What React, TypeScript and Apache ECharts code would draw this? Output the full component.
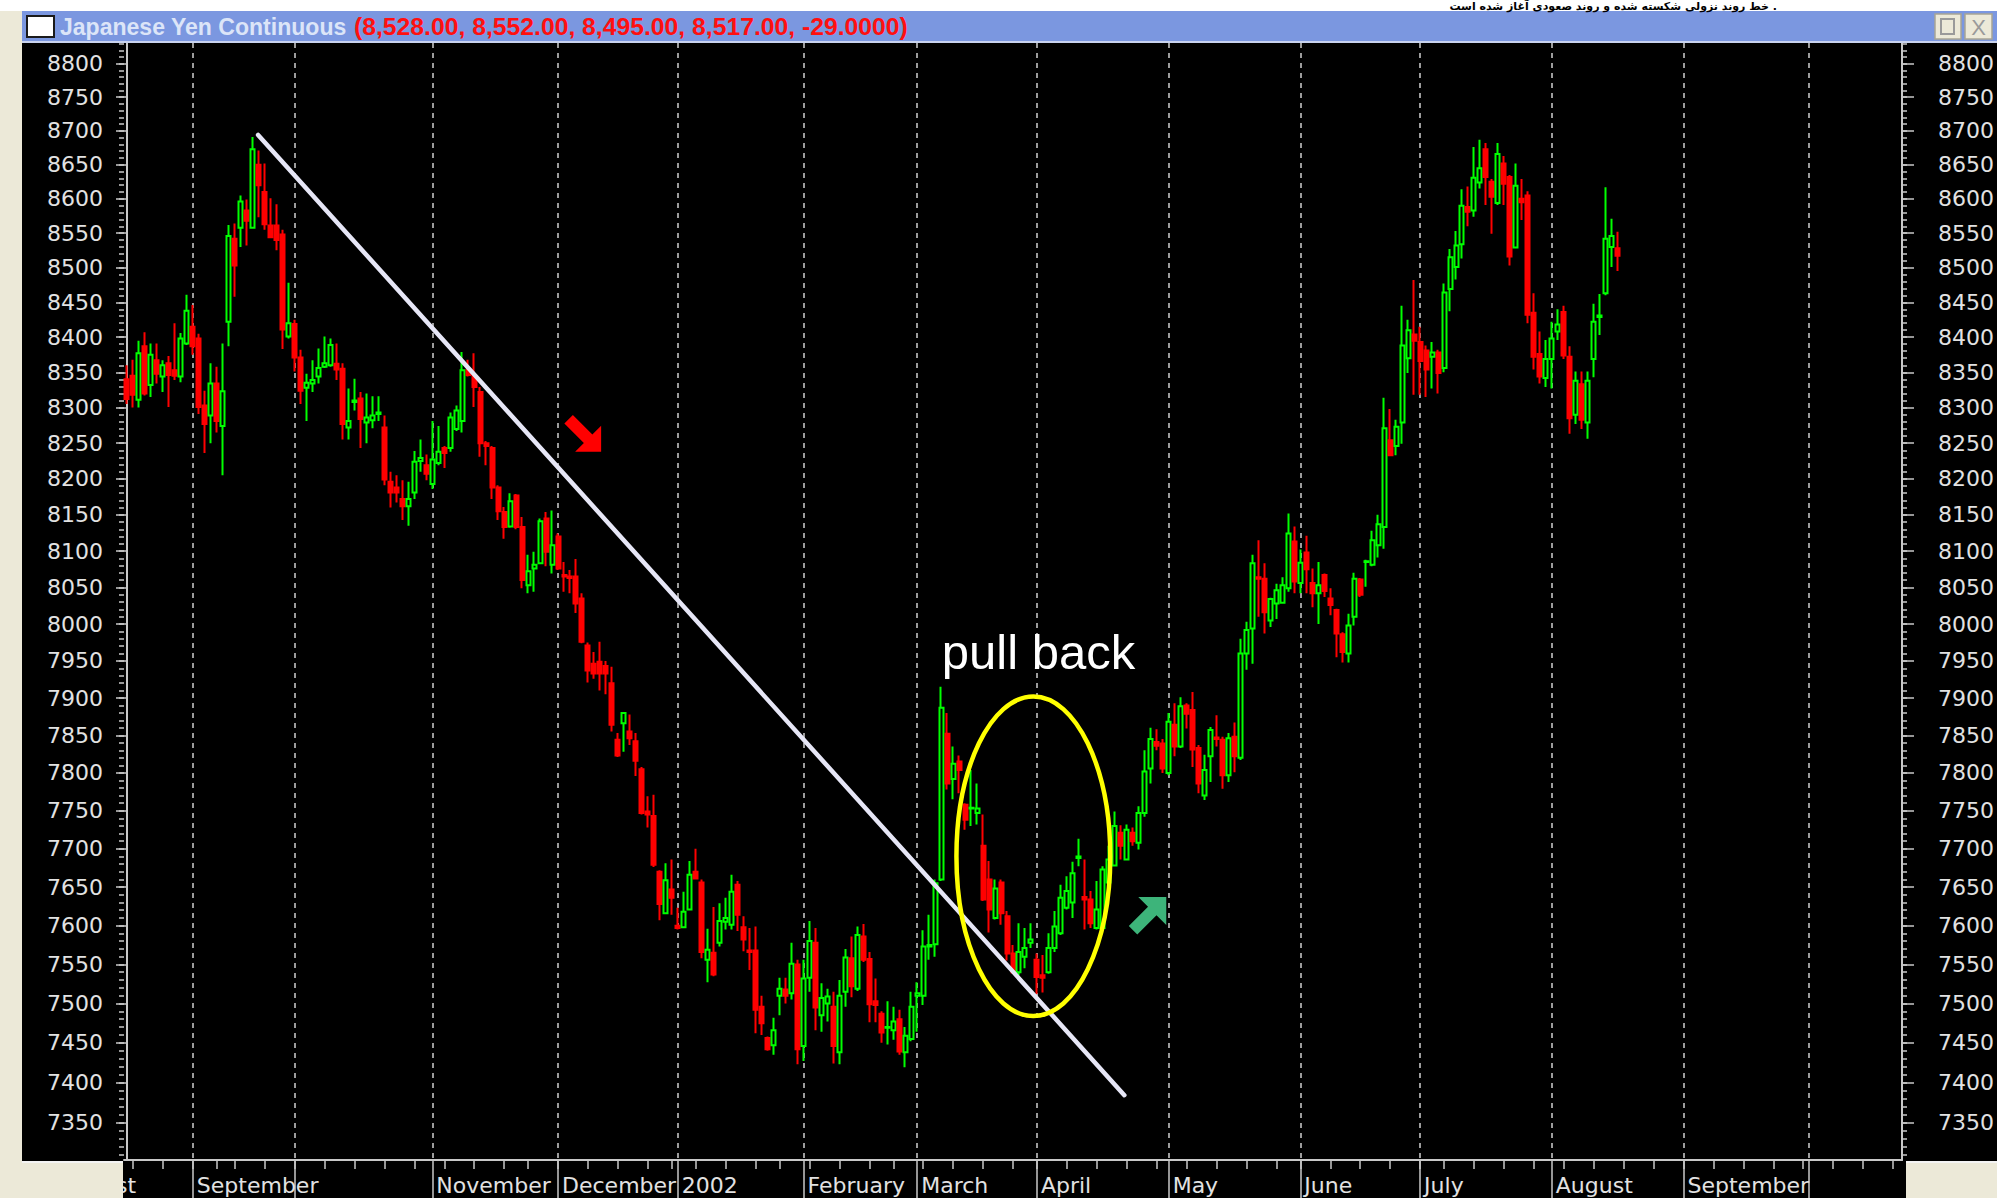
import { useEffect, useRef } from 'react';
import * as echarts from 'echarts';

// ---------------- data ----------------
const opens = [
  8340, 8345, 8311, 8387, 8332, 8367, 8344, 8363, 8353, 8344,
  8391, 8415, 8398, 8303, 8289, 8334, 8274, 8422, 8542, 8558,
  8583, 8558, 8650, 8610, 8561, 8561, 8548, 8401, 8419, 8371,
  8328, 8334, 8344, 8358, 8360, 8362, 8355, 8272, 8308, 8313,
  8279, 8282, 8291, 8272, 8196, 8188, 8172, 8162, 8181, 8225,
  8219, 8193, 8222, 8243, 8243, 8270, 8281, 8353, 8344, 8322,
  8250, 8243, 8188, 8154, 8134, 8177, 8133, 8053, 8076, 8083,
  8145, 8081, 8120, 8067, 8065, 8065, 8035, 7971, 7946, 7949,
  7943, 7920, 7844, 7866, 7855, 7842, 7805, 7749, 7743, 7670,
  7616, 7647, 7600, 7598, 7621, 7670, 7656, 7556, 7565, 7578,
  7605, 7601, 7653, 7598, 7568, 7568, 7496, 7456, 7447, 7510,
  7518, 7513, 7550, 7446, 7533, 7578, 7485, 7500, 7496, 7438,
  7515, 7558, 7519, 7586, 7557, 7503, 7487, 7469, 7466, 7480,
  7438, 7455, 7510, 7510, 7573, 7576, 7660, 7852, 7792, 7815,
  7758, 7753, 7747, 7704, 7660, 7610, 7656, 7612, 7564, 7540,
  7560, 7578, 7556, 7536, 7540, 7571, 7590, 7623, 7630, 7688,
  7637, 7634, 7597, 7597, 7656, 7678, 7721, 7686, 7721, 7708,
  7747, 7806, 7841, 7839, 7800, 7864, 7835, 7890, 7884, 7833,
  7770, 7822, 7847, 7844, 7797, 7848, 7820, 7960, 7994, 8064,
  8062, 8005, 8028, 8029, 8049, 8113, 8056, 8098, 8056, 8042,
  8067, 8035, 8019, 7986, 7960, 8010, 8061, 8085, 8081, 8108,
  8133, 8254, 8246, 8279, 8370, 8404, 8393, 8381, 8372, 8378,
  8356, 8469, 8501, 8534, 8588, 8583, 8624, 8673, 8625, 8594,
  8652, 8632, 8529, 8600, 8605, 8435, 8376, 8342, 8369, 8408,
  8436, 8372, 8290, 8333, 8279, 8369, 8429, 8463, 8530, 8528,
];
const highs = [
  8360, 8368, 8395, 8407, 8391, 8391, 8367, 8373, 8420, 8406,
  8461, 8446, 8405, 8324, 8363, 8358, 8391, 8562, 8564, 8605,
  8599, 8691, 8671, 8652, 8601, 8592, 8555, 8478, 8425, 8382,
  8348, 8367, 8384, 8401, 8398, 8391, 8363, 8327, 8341, 8322,
  8320, 8316, 8316, 8289, 8210, 8205, 8198, 8196, 8239, 8255,
  8234, 8281, 8274, 8246, 8293, 8303, 8379, 8368, 8377, 8329,
  8253, 8246, 8191, 8161, 8180, 8179, 8147, 8095, 8099, 8145,
  8154, 8156, 8124, 8085, 8074, 8089, 8042, 7975, 7962, 7976,
  7950, 7942, 7853, 7880, 7878, 7853, 7808, 7769, 7771, 7672,
  7681, 7686, 7623, 7644, 7684, 7700, 7660, 7596, 7624, 7629,
  7636, 7666, 7658, 7612, 7597, 7599, 7510, 7458, 7482, 7533,
  7533, 7578, 7556, 7556, 7606, 7597, 7526, 7519, 7515, 7530,
  7570, 7586, 7599, 7602, 7566, 7532, 7490, 7503, 7496, 7492,
  7470, 7515, 7527, 7594, 7614, 7660, 7915, 7880, 7835, 7823,
  7760, 7804, 7786, 7745, 7684, 7660, 7660, 7619, 7575, 7603,
  7597, 7603, 7564, 7562, 7590, 7619, 7653, 7664, 7683, 7713,
  7686, 7645, 7658, 7677, 7704, 7749, 7731, 7732, 7728, 7756,
  7830, 7860, 7858, 7845, 7880, 7893, 7901, 7893, 7908, 7837,
  7824, 7861, 7877, 7848, 7853, 7867, 7980, 8003, 8095, 8115,
  8083, 8036, 8055, 8064, 8152, 8134, 8102, 8121, 8076, 8085,
  8069, 8049, 8021, 7989, 8014, 8070, 8063, 8088, 8128, 8150,
  8314, 8298, 8283, 8445, 8425, 8482, 8415, 8388, 8393, 8382,
  8477, 8527, 8553, 8614, 8618, 8676, 8687, 8682, 8629, 8682,
  8663, 8635, 8652, 8629, 8611, 8463, 8408, 8396, 8422, 8440,
  8445, 8387, 8351, 8351, 8351, 8448, 8462, 8617, 8571, 8552,
];
const lows = [
  8305, 8300, 8300, 8317, 8315, 8334, 8322, 8301, 8339, 8336,
  8389, 8375, 8291, 8236, 8250, 8265, 8205, 8387, 8458, 8530,
  8532, 8558, 8573, 8555, 8543, 8525, 8383, 8398, 8351, 8305,
  8281, 8322, 8334, 8356, 8358, 8339, 8255, 8255, 8296, 8243,
  8250, 8271, 8281, 8191, 8160, 8167, 8143, 8135, 8172, 8210,
  8198, 8186, 8219, 8215, 8238, 8267, 8265, 8344, 8301, 8231,
  8219, 8172, 8143, 8117, 8132, 8130, 8049, 8042, 8044, 8083,
  8079, 8069, 8074, 8044, 8042, 8015, 7974, 7921, 7926, 7910,
  7905, 7855, 7821, 7828, 7837, 7796, 7745, 7728, 7676, 7607,
  7615, 7614, 7595, 7597, 7621, 7661, 7558, 7527, 7535, 7573,
  7595, 7595, 7593, 7567, 7543, 7462, 7460, 7440, 7435, 7485,
  7500, 7505, 7423, 7427, 7515, 7466, 7464, 7477, 7424, 7423,
  7496, 7508, 7516, 7553, 7476, 7476, 7450, 7448, 7454, 7435,
  7419, 7452, 7464, 7498, 7556, 7560, 7658, 7778, 7765, 7773,
  7725, 7730, 7732, 7632, 7591, 7608, 7601, 7555, 7538, 7536,
  7545, 7571, 7512, 7514, 7538, 7566, 7588, 7621, 7610, 7677,
  7595, 7597, 7595, 7595, 7651, 7677, 7686, 7685, 7704, 7699,
  7742, 7786, 7830, 7800, 7797, 7822, 7833, 7859, 7808, 7773,
  7764, 7788, 7835, 7779, 7788, 7801, 7817, 7938, 7946, 8010,
  7987, 7996, 8007, 8028, 8044, 8042, 8042, 8042, 8023, 8000,
  8037, 8012, 7955, 7948, 7948, 7998, 8037, 8051, 8079, 8091,
  8103, 8232, 8233, 8249, 8349, 8318, 8318, 8315, 8327, 8320,
  8350, 8437, 8483, 8513, 8560, 8574, 8615, 8591, 8549, 8591,
  8591, 8503, 8528, 8569, 8420, 8354, 8334, 8329, 8327, 8396,
  8369, 8263, 8277, 8270, 8256, 8343, 8403, 8460, 8501, 8495,
];
const closes = [
  8312, 8318, 8377, 8320, 8375, 8348, 8360, 8346, 8345, 8398,
  8438, 8387, 8301, 8277, 8334, 8281, 8323, 8546, 8503, 8596,
  8568, 8673, 8620, 8563, 8544, 8540, 8411, 8420, 8371, 8324,
  8335, 8339, 8356, 8363, 8389, 8354, 8277, 8281, 8310, 8284,
  8286, 8289, 8293, 8199, 8181, 8181, 8162, 8172, 8224, 8229,
  8207, 8227, 8238, 8236, 8286, 8296, 8353, 8346, 8329, 8250,
  8246, 8188, 8155, 8133, 8169, 8133, 8060, 8072, 8081, 8141,
  8099, 8108, 8076, 8065, 8063, 8028, 7976, 7937, 7933, 7933,
  7933, 7864, 7823, 7880, 7846, 7816, 7747, 7745, 7679, 7628,
  7659, 7636, 7597, 7618, 7666, 7661, 7566, 7569, 7537, 7606,
  7610, 7644, 7614, 7582, 7566, 7492, 7475, 7442, 7466, 7519,
  7510, 7551, 7442, 7532, 7580, 7495, 7507, 7509, 7446, 7510,
  7559, 7522, 7588, 7556, 7499, 7498, 7463, 7470, 7477, 7439,
  7459, 7496, 7513, 7573, 7575, 7655, 7887, 7786, 7812, 7804,
  7738, 7754, 7753, 7634, 7621, 7648, 7616, 7564, 7540, 7566,
  7571, 7582, 7534, 7533, 7571, 7599, 7636, 7645, 7668, 7690,
  7634, 7603, 7621, 7673, 7686, 7730, 7704, 7725, 7710, 7747,
  7802, 7845, 7836, 7806, 7868, 7835, 7889, 7879, 7831, 7786,
  7804, 7857, 7845, 7797, 7846, 7822, 7960, 7992, 8083, 8062,
  8016, 8034, 8046, 8053, 8124, 8058, 8084, 8075, 8042, 8053,
  8045, 8026, 7987, 7962, 7998, 8062, 8040, 8086, 8115, 8137,
  8271, 8233, 8273, 8388, 8410, 8395, 8366, 8354, 8378, 8349,
  8464, 8515, 8532, 8590, 8581, 8631, 8645, 8632, 8603, 8666,
  8622, 8516, 8619, 8595, 8432, 8372, 8344, 8369, 8398, 8418,
  8374, 8285, 8338, 8283, 8338, 8422, 8431, 8542, 8546, 8517,
];

// trading calendar (categories): weekdays from the first bar, market holidays removed
const FIRST_DAY = [2001, 7, 17];
const TOTAL_DAYS = 297;
const holidays = [
  '2001-09-03', '2001-09-11', '2001-09-12', '2001-11-22', '2001-12-25',
  '2002-01-01', '2002-01-21', '2002-02-18', '2002-03-29', '2002-05-27', '2002-07-04',
];
const monthLabels: Record<string, string> = {
  '2001-09': 'September', '2001-11': 'November', '2001-12': 'December', '2002-01': '2002',
  '2002-02': 'February', '2002-03': 'March', '2002-04': 'April', '2002-05': 'May',
  '2002-06': 'June', '2002-07': 'July', '2002-08': 'August', '2002-09': 'September',
};
const PREV_MONTH_LABEL = 'August';
const PREV_MONTH_OFFSET = -12; // trading days from Aug 1 2001 to the first bar

const yMajorTicks = [
  7350, 7400, 7450, 7500, 7550, 7600, 7650, 7700, 7750, 7800, 7850, 7900, 7950, 8000, 8050,
  8100, 8150, 8200, 8250, 8300, 8350, 8400, 8450, 8500, 8550, 8600, 8650, 8700, 8750, 8800,
];
const Y_MIN = 7303;
const Y_MAX = 8831;

// annotations (data coordinates: [day index, price])
const trendStart = [21.9, 8694];
const trendEnd = [166.6, 7384];
const ellipseCenterDay = 151.4;
const ellipseHalfDays = 12.85;
const ellipseTop = 7902;
const ellipseBottom = 7484;
const pullBackAt = [136.1, 7940];
const redArrowTip = [79.2, 8238];
const greenArrowTip = [173.6, 7637];

const TITLE = 'Japanese Yen Continuous';
const TITLE_VALUES = '(8,528.00, 8,552.00, 8,495.00, 8,517.00, -29.0000)';
const NOTE_TEXT = 'خط روند نزولی شکسته شده و روند صعودی آغاز شده است .';

// ---------------- helpers ----------------
function buildDates(): string[] {
  const out: string[] = [];
  const d = new Date(Date.UTC(FIRST_DAY[0], FIRST_DAY[1], FIRST_DAY[2]));
  while (out.length < TOTAL_DAYS) {
    const wd = d.getUTCDay();
    const s = d.toISOString().slice(0, 10);
    if (wd !== 0 && wd !== 6 && holidays.indexOf(s) < 0) out.push(s);
    d.setUTCDate(d.getUTCDate() + 1);
  }
  return out;
}

function arrowPoints(tip: number[], dx: number, dy: number, len: number, side: number, shaft: number) {
  const n = Math.hypot(dx, dy);
  const ux = dx / n, uy = dy / n;
  const nx = -uy, ny = ux;
  const hl = side / Math.SQRT2;
  const bx = tip[0] - ux * hl, by = tip[1] - uy * hl;
  const tx = tip[0] - ux * len, ty = tip[1] - uy * len;
  return [
    [tx + nx * shaft, ty + ny * shaft],
    [bx + nx * shaft, by + ny * shaft],
    [bx + nx * hl, by + ny * hl],
    [tip[0], tip[1]],
    [bx - nx * hl, by - ny * hl],
    [bx - nx * shaft, by - ny * shaft],
    [tx - nx * shaft, ty - ny * shaft],
  ];
}

const GREEN = '#00FF00';
const RED = '#FF0000';
const AXIS = '#C8C8C8';
const TXT = '#E2E2E2';
const BEIGE = '#ECE9D8';
const FONT = 'DejaVu Sans';

export default function App() {
  const ref = useRef<HTMLDivElement>(null);

  useEffect(() => {
    if (!ref.current) return;
    const chart = echarts.init(ref.current, undefined, { renderer: 'svg' });

    const dates = buildDates();
    const dow = dates.map((s) => new Date(s + 'T00:00:00Z').getUTCDay());
    const monthStart = dates.map((s, i) => i > 0 && s.slice(0, 7) !== dates[i - 1].slice(0, 7));
    const weekStart = dates.map((_, i) => i > 0 && dow[i] < dow[i - 1]);
    const labelAt = dates.map((s, i) => (monthStart[i] ? monthLabels[s.slice(0, 7)] || '' : ''));

    const candles = opens.map((o, i) => [o, closes[i], lows[i], highs[i]]);

    const yMinor: number[] = [];
    for (let v = 7310; v <= 8830; v += 10) yMinor.push(v);

    const yBase: any = {
      type: 'log',
      logBase: 10,
      min: Y_MIN,
      max: Y_MAX,
      splitLine: { show: false },
    };
    const tickLine = { color: AXIS, width: 1.5 };

    const option: any = {
      animation: false,
      backgroundColor: '#000000',
      grid: { left: 124, right: 92, top: 43, bottom: 38 },
      xAxis: [
        {
          type: 'category',
          data: dates,
          boundaryGap: true,
          position: 'bottom',
          axisLine: { show: true, lineStyle: { color: AXIS, width: 2 } },
          axisTick: { show: true, alignWithLabel: true, interval: (i: number) => weekStart[i], length: 9, lineStyle: tickLine },
          axisLabel: { show: false },
          splitLine: { show: false },
        },
        {
          type: 'category',
          data: dates,
          boundaryGap: true,
          position: 'bottom',
          axisLine: { show: false },
          axisTick: { show: true, alignWithLabel: true, interval: (i: number) => monthStart[i], length: 38, lineStyle: tickLine },
          axisLabel: {
            show: true,
            interval: (i: number) => !!labelAt[i],
            formatter: (_v: string, i: number) => labelAt[i] || '',
            align: 'left',
            padding: [0, 0, 0, 4],
            margin: 14,
            color: TXT,
            fontSize: 22,
            fontFamily: FONT,
          },
          splitLine: {
            show: true,
            alignWithLabel: true,
            interval: (i: number) => monthStart[i],
            lineStyle: { color: '#D0D0D0', width: 1.5, type: [5, 5] },
          },
        },
        { type: 'value', min: -0.5, max: TOTAL_DAYS - 0.5, show: false },
      ],
      yAxis: [
        {
          ...yBase,
          position: 'left',
          axisLine: { show: true, lineStyle: { color: AXIS, width: 2 } },
          axisTick: { show: true, customValues: yMajorTicks, length: 11, lineStyle: tickLine },
          axisLabel: {
            show: true,
            customValues: yMajorTicks,
            formatter: (v: number) => String(Math.round(v)),
            color: TXT,
            fontSize: 22,
            fontFamily: FONT,
            margin: 21,
          },
        },
        {
          ...yBase,
          position: 'left',
          axisLine: { show: false },
          axisTick: { show: true, customValues: yMinor, length: 5, lineStyle: tickLine },
          axisLabel: { show: false },
        },
        {
          ...yBase,
          position: 'right',
          axisLine: { show: true, lineStyle: { color: AXIS, width: 2 } },
          axisTick: { show: true, customValues: yMajorTicks, length: 12, lineStyle: tickLine },
          axisLabel: {
            show: true,
            customValues: yMajorTicks,
            formatter: (v: number) => String(Math.round(v)),
            color: TXT,
            fontSize: 22,
            fontFamily: FONT,
            margin: 36,
          },
        },
        {
          ...yBase,
          position: 'right',
          axisLine: { show: false },
          axisTick: { show: true, customValues: yMinor, length: 5, lineStyle: tickLine },
          axisLabel: { show: false },
        },
      ],
      series: [
        {
          type: 'candlestick',
          xAxisIndex: 0,
          yAxisIndex: 0,
          data: candles,
          barWidth: 4.5,
          itemStyle: {
            color: '#000000',
            color0: RED,
            borderColor: GREEN,
            borderColor0: RED,
            borderWidth: 2,
          },
          z: 3,
        },
        {
          type: 'custom',
          xAxisIndex: 2,
          yAxisIndex: 0,
          data: [[0, 8000]],
          clip: false,
          silent: true,
          z: 5,
          renderItem: (_params: any, api: any) => {
            const c = (x: number, y: number) => api.coord([x, y]);
            const a = c(trendStart[0], trendStart[1]);
            const b = c(trendEnd[0], trendEnd[1]);
            const eT = c(ellipseCenterDay, ellipseTop);
            const eB = c(ellipseCenterDay, ellipseBottom);
            const eR = c(ellipseCenterDay + ellipseHalfDays, ellipseTop);
            const pb = c(pullBackAt[0], pullBackAt[1]);
            const rt = c(redArrowTip[0], redArrowTip[1]);
            const gt = c(greenArrowTip[0], greenArrowTip[1]);
            const aug = c(PREV_MONTH_OFFSET, Y_MIN);
            return {
              type: 'group',
              children: [
                {
                  type: 'line',
                  shape: { x1: a[0], y1: a[1], x2: b[0], y2: b[1] },
                  style: { stroke: '#E6E6F6', lineWidth: 4.5, lineCap: 'round' },
                },
                {
                  type: 'ellipse',
                  shape: { cx: eT[0], cy: (eT[1] + eB[1]) / 2, rx: eR[0] - eT[0], ry: (eB[1] - eT[1]) / 2 },
                  style: { stroke: '#FFFF00', lineWidth: 4.5, fill: null },
                },
                {
                  type: 'polygon',
                  shape: { points: arrowPoints(rt, 1, 1, 46, 26, 6) },
                  style: { fill: RED },
                },
                {
                  type: 'polygon',
                  shape: { points: arrowPoints(gt, 1, -1, 47, 28, 6) },
                  style: { fill: '#3DB47A' },
                },
                {
                  type: 'text',
                  x: pb[0],
                  y: pb[1] - 16.6,
                  style: {
                    text: 'pull back',
                    fill: '#FFFFFF',
                    fontSize: 49,
                    fontFamily: 'Liberation Sans',
                    textAlign: 'left',
                    textVerticalAlign: 'middle',
                  },
                },
                {
                  type: 'text',
                  x: aug[0] + 4,
                  y: aug[1] + 14,
                  style: {
                    text: PREV_MONTH_LABEL,
                    fill: TXT,
                    fontSize: 22,
                    fontFamily: FONT,
                    textAlign: 'left',
                    textVerticalAlign: 'top',
                  },
                },
              ],
            };
          },
        },
      ],
      graphic: [
        { type: 'rect', z: 100, shape: { x: 0, y: 0, width: 1997, height: 11 }, style: { fill: '#FFFFFF' } },
        {
          type: 'text', z: 101, x: 1777, y: 6,
          style: { text: NOTE_TEXT, fill: '#000000', font: 'bold 11px "DejaVu Sans"', textAlign: 'right', textVerticalAlign: 'middle' },
        },
        { type: 'rect', z: 100, shape: { x: 0, y: 11, width: 22, height: 1187 }, style: { fill: BEIGE } },
        { type: 'rect', z: 100, shape: { x: 22, y: 11, width: 1975, height: 31 }, style: { fill: '#7B97E0' } },
        { type: 'rect', z: 100, shape: { x: 22, y: 41, width: 1975, height: 2 }, style: { fill: '#C9D3EE' } },
        { type: 'rect', z: 101, shape: { x: 27, y: 16, width: 27, height: 21 }, style: { fill: '#FFFFFF', stroke: '#1A1A1A', lineWidth: 2 } },
        {
          type: 'text', z: 101, x: 60, y: 27, scaleX: 0.96,
          style: { text: TITLE, fill: '#DCE5F8', font: 'bold 24px "Liberation Sans"', textVerticalAlign: 'middle' },
        },
        {
          type: 'text', z: 101, x: 354, y: 27, scaleX: 1.03,
          style: { text: TITLE_VALUES, fill: '#FF1010', font: 'bold 24px "Liberation Sans"', textVerticalAlign: 'middle' },
        },
        { type: 'rect', z: 101, shape: { x: 1935, y: 14, width: 26, height: 25 }, style: { fill: BEIGE, stroke: '#A8A595', lineWidth: 1.5 } },
        { type: 'rect', z: 102, shape: { x: 1941, y: 19, width: 13, height: 15 }, style: { fill: 'none', stroke: '#9A9A9A', lineWidth: 2 } },
        { type: 'rect', z: 101, shape: { x: 1965, y: 14, width: 27, height: 25 }, style: { fill: BEIGE, stroke: '#A8A595', lineWidth: 1.5 } },
        {
          type: 'text', z: 102, x: 1978.5, y: 27,
          style: { text: 'X', fill: '#9A9A9A', font: '22px "Liberation Sans"', textAlign: 'center', textVerticalAlign: 'middle' },
        },
        { type: 'rect', z: 100, shape: { x: 0, y: 1161, width: 123, height: 37 }, style: { fill: BEIGE } },
        { type: 'rect', z: 101, shape: { x: 22, y: 1161, width: 101, height: 2 }, style: { fill: '#F4F4F4' } },
        { type: 'rect', z: 100, shape: { x: 1906, y: 1161, width: 91, height: 37 }, style: { fill: BEIGE } },
        { type: 'rect', z: 101, shape: { x: 1906, y: 1161, width: 91, height: 2 }, style: { fill: '#F4F4F4' } },
      ],
    };

    chart.setOption(option);
    return () => chart.dispose();
  }, []);

  return <div ref={ref} style={{ position: 'absolute', left: 0, top: 0, width: 1997, height: 1198 }} />;
}
